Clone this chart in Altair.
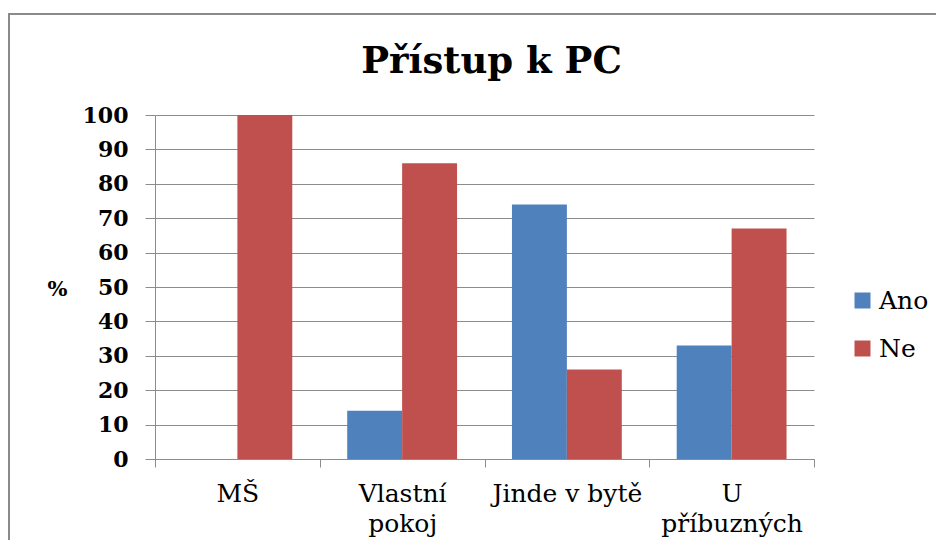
import json
import altair as alt
import pandas as pd

# ---- data -------------------------------------------------------------
title_text = "Přístup k PC"
categories = ["MŠ", "Vlastní pokoj", "Jinde v bytě", "U příbuzných"]
label_lines = [["MŠ"], ["Vlastní", "pokoj"], ["Jinde v bytě"], ["U", "příbuzných"]]
series = ["Ano", "Ne"]
ano = [0, 14, 74, 33]
ne = [100, 86, 26, 67]
colors = ["#4F81BD", "#C0504D"]
y_ticks = [0, 10, 20, 30, 40, 50, 60, 70, 80, 90, 100]

rows = []
for c, a, n in zip(categories, ano, ne):
    rows.append({"kat": c, "odpoved": "Ano", "pct": a})
    rows.append({"kat": c, "odpoved": "Ne", "pct": n})
df = pd.DataFrame(rows)

# multi-line tick labels
expr = "datum.value"
for c, lines in reversed(list(zip(categories, label_lines))):
    expr = f"datum.value == {json.dumps(c, ensure_ascii=False)} ? {json.dumps(lines, ensure_ascii=False)} : ({expr})"

FONT = "DejaVu Serif"
GRAY = "#8C8C8C"
W, H = 659, 344

bars = alt.Chart(df).mark_bar().encode(
    x=alt.X(
        "kat:N",
        sort=categories,
        scale=alt.Scale(paddingInner=0, paddingOuter=0),
        axis=alt.Axis(
            title=None,
            labelExpr=expr,
            labelAngle=0,
            tickBand="extent",
            tickSize=8,
            tickColor=GRAY,
            domainColor=GRAY,
            labelPadding=14,
            labelFontSize=25,
            labelLineHeight=30,
            labelBaseline="top",
            grid=False,
        ),
    ),
    xOffset=alt.XOffset("odpoved:N", sort=series,
                        scale=alt.Scale(paddingInner=0, paddingOuter=0.5)),
    y=alt.Y(
        "pct:Q",
        scale=alt.Scale(domain=[0, 100], nice=False),
        axis=alt.Axis(
            values=y_ticks,
            title="%",
            titleAngle=0,
            titleX=-98,
            titleY=174,
            titleAlign="center",
            titleBaseline="middle",
            titleFontSize=21,
            titleFontWeight="bold",
            labelFontSize=22,
            labelFontWeight="bold",
            labelPadding=17,
            tickSize=10,
            tickColor=GRAY,
            domainColor=GRAY,
            gridColor=GRAY,
            grid=True,
        ),
    ),
    color=alt.Color(
        "odpoved:N",
        scale=alt.Scale(domain=series, range=colors),
        legend=alt.Legend(
            title=None,
            orient="none",
            legendX=695,
            legendY=173,
            padding=0,
            symbolType="square",
            symbolSize=256,
            symbolStrokeWidth=0,
            labelFontSize=25,
            labelOffset=4,
            rowPadding=22,
        ),
    ),
)

frame = alt.Chart(pd.DataFrame({"f": [0]})).mark_rect(
    fillOpacity=0, stroke="#8A8A8A", strokeWidth=2
).encode(
    x=alt.value(-146), x2=alt.value(900), y=alt.value(-101), y2=alt.value(600)
)

title = alt.Chart(pd.DataFrame({"t": [title_text]})).mark_text(
    font=FONT, fontSize=37, fontWeight="bold", color="black",
    align="center", baseline="alphabetic"
).encode(
    text="t:N", x=alt.value(W / 2 + 7), y=alt.value(-42)
)

chart = alt.layer(frame, bars, title).properties(
    width=W,
    height=H,
    autosize=alt.AutoSizeParams(type="none"),
    padding={"left": 147, "top": 107, "right": 122, "bottom": 81},
).configure_view(
    stroke=None
).configure_axis(
    labelFont=FONT,
    titleFont=FONT,
    labelColor="black",
    titleColor="black",
    domainWidth=1,
    gridWidth=1,
    tickWidth=1,
).configure_legend(
    labelFont=FONT,
    labelColor="black",
)

chart.save("out.html", embed_options={"renderer": "svg", "actions": False})
